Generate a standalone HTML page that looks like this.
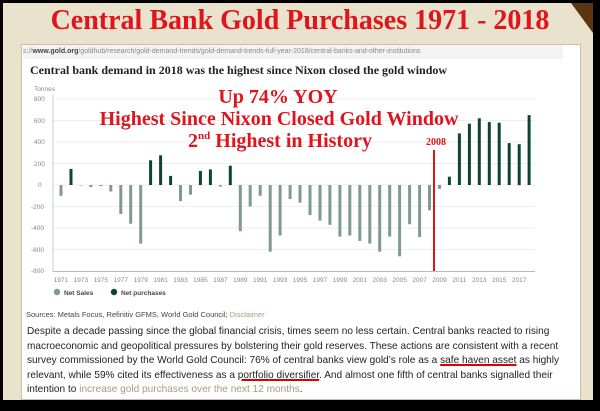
<!DOCTYPE html>
<html><head><meta charset="utf-8"><style>
body{margin:0;width:600px;height:411px;background:#000;overflow:hidden;font-family:"Liberation Sans",sans-serif}
.bg{position:absolute;left:3px;top:3px;width:590px;height:397px;background:#e9e2cc}
.corner{position:absolute;right:0;top:0;width:0;height:0;border-top:30px solid #5a3510;border-left:22px solid transparent}
.title{position:absolute;left:0;width:600px;top:5px;text-align:center;font:bold 28px "Liberation Serif",serif;color:#e0141c}
.box{position:absolute;left:21px;top:44px;width:558px;height:354px;background:#fff;border:1px solid #d8b8a8}
.url{position:absolute;left:23px;top:45px;width:540px;height:14px;background:#f3f3f3;font-size:7px;color:#888;line-height:14px}
.url b{color:#444;font-weight:bold}
.sub{position:absolute;left:30px;top:63px;font:bold 12px "Liberation Serif",serif;color:#222}
.p{position:absolute;left:27px;top:325px;width:552px;font-size:10.1px;line-height:14.5px;color:#222}
.u{text-decoration:underline;text-decoration-color:#d00;text-decoration-thickness:1.5px}
.lk{color:#a99c78}
</style></head><body>
<div class="bg"><div class="corner"></div></div>
<div class="title">Central Bank Gold Purchases 1971 - 2018</div>
<div class="box"></div>
<div class="url">s://<b>www.gold.org</b>/goldhub/research/gold-demand-trends/gold-demand-trends-full-year-2018/central-banks-and-other-institutions</div>
<div class="sub">Central bank demand in 2018 was the highest since Nixon closed the gold window</div>
<svg width="600" height="411" style="position:absolute;left:0;top:0">
<g font-family="Liberation Sans" font-size="6.5" fill="#888">
<text x="34" y="91">Tonnes</text>
<text x="34" y="101">800</text><text x="34" y="123">600</text><text x="34" y="144">400</text><text x="34" y="166">200</text><text x="38" y="187">0</text>
<text x="31" y="209">-200</text><text x="31" y="230">-400</text><text x="31" y="252">-600</text><text x="31" y="273">-800</text>
</g>
<g stroke="#e8e8e8" stroke-width="0.8">
<line x1="53" y1="99" x2="535" y2="99"/><line x1="53" y1="120.5" x2="535" y2="120.5"/><line x1="53" y1="142" x2="535" y2="142"/><line x1="53" y1="163.5" x2="535" y2="163.5"/><line x1="53" y1="185" x2="535" y2="185"/><line x1="53" y1="206.5" x2="535" y2="206.5"/><line x1="53" y1="228" x2="535" y2="228"/><line x1="53" y1="249.5" x2="535" y2="249.5"/>
</g>
<line x1="53" y1="95" x2="53" y2="272" stroke="#ccc"/>
<line x1="53" y1="271.5" x2="535" y2="271.5" stroke="#bbb"/>
<g id="bars"></g>
<g font-family="Liberation Sans" font-size="6.5" fill="#888" id="xl"></g>
<line x1="434" y1="150" x2="434" y2="271" stroke="#e0141c" stroke-width="2"/>
<text x="436" y="145" font-family="Liberation Serif" font-weight="bold" font-size="10" fill="#e0141c" text-anchor="middle">2008</text>
<g font-family="Liberation Serif" font-weight="bold" fill="#e0141c" text-anchor="middle">
<text x="278" y="103" font-size="20">Up 74% YOY</text>
<text x="279" y="125" font-size="20">Highest Since Nixon Closed Gold Window</text>
<text x="280" y="147" font-size="20">2<tspan font-size="11" dy="-8">nd</tspan><tspan dy="8"> Highest in History</tspan></text>
</g>
<circle cx="57" cy="292" r="3.2" fill="#7f9a8e"/><text x="64" y="295" font-size="6.5" font-weight="bold" fill="#444" font-family="Liberation Sans">Net Sales</text>
<circle cx="114" cy="292" r="3.2" fill="#0f4530"/><text x="121" y="295" font-size="6.5" font-weight="bold" fill="#444" font-family="Liberation Sans">Net purchases</text>
<text x="26" y="317" font-size="7.5" fill="#444" font-family="Liberation Sans">Sources: Metals Focus, Refinitiv GFMS, World Gold Council; <tspan fill="#a99c78">Disclaimer</tspan></text>
</svg>
<div class="p">Despite a decade passing since the global financial crisis, times seem no less certain. Central banks reacted to rising macroeconomic and geopolitical pressures by bolstering their gold reserves. These actions are consistent with a recent survey commissioned by the World Gold Council: 76% of central banks view gold’s role as a <span class="u">safe haven asset</span> as highly relevant, while 59% cited its effectiveness as a <span class="u">portfolio diversifier</span>. And almost one fifth of central banks signalled their intention to <span class="lk">increase gold purchases over the next 12 months</span>.</div>
<script>
var v=[-100,150,-5,-20,-10,-60,-270,-360,-545,230,276,85,-150,-90,130,145,-15,180,-430,-200,-100,-620,-470,-130,-165,-280,-330,-370,-480,-470,-520,-545,-620,-480,-663,-365,-485,-235,-35,77,480,570,620,585,580,390,380,650];
var g=document.getElementById('bars'),h='';
v.forEach(function(d,i){var x=59.5+i*9.96,hh=Math.abs(d)*0.1075,y=d>0?185-hh:185;
h+='<rect x="'+x.toFixed(1)+'" y="'+y.toFixed(1)+'" width="3" height="'+hh.toFixed(1)+'" fill="'+(d>0?'#0f4530':'#7f9a8e')+'"/>';});
g.innerHTML=h;var t='';
for(var i=0;i<48;i+=2){t+='<text x="'+(61+i*9.96).toFixed(1)+'" y="282" text-anchor="middle">'+(1971+i)+'</text>';}
document.getElementById('xl').innerHTML=t;
</script>
</body></html>
